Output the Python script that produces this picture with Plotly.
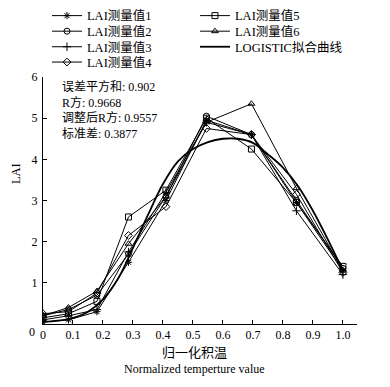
import plotly.graph_objects as go

x_pts = [0, 0.085, 0.18, 0.285, 0.41, 0.545, 0.695, 0.845, 1.0]
lai1 = [0.05, 0.10, 0.30, 1.50, 3.00, 4.95, 4.60, 2.95, 1.30]
lai2 = [0.20, 0.35, 0.70, 1.70, 3.10, 5.05, 4.60, 3.00, 1.35]
lai3 = [0.10, 0.20, 0.35, 1.75, 3.20, 4.90, 4.60, 2.75, 1.20]
lai4 = [0.25, 0.30, 0.75, 2.15, 2.85, 4.75, 4.60, 3.15, 1.25]
lai5 = [0.15, 0.25, 0.55, 2.60, 3.25, 5.00, 4.25, 2.95, 1.40]
lai6 = [0.20, 0.40, 0.80, 1.95, 3.10, 4.90, 5.35, 3.30, 1.30]

fit_x = [0, 0.05, 0.1, 0.15, 0.2, 0.25, 0.3, 0.35, 0.4, 0.45, 0.5, 0.55, 0.6, 0.65,
         0.7, 0.75, 0.8, 0.85, 0.9, 0.95, 1.0]
fit_y = [0.05, 0.08, 0.15, 0.30, 0.60, 1.10, 1.85, 2.65, 3.40, 3.95, 4.25, 4.42, 4.50, 4.50,
         4.40, 4.12, 3.80, 3.35, 2.75, 2.05, 1.30]

series_names = ["LAI测量值1", "LAI测量值2", "LAI测量值3", "LAI测量值4", "LAI测量值5", "LAI测量值6"]
series_vals = [lai1, lai2, lai3, lai4, lai5, lai6]
fit_name = "LOGISTIC拟合曲线"
symbols = ["asterisk-open", "circle-open", "cross-thin-open", "diamond-open", "square-open", "triangle-up-open"]

x_tickvals = [0, 0.1, 0.2, 0.3, 0.4, 0.5, 0.6, 0.7, 0.8, 0.9, 1.0]
x_ticktext = ["0", "0.1", "0.2", "0.3", "0.4", "0.5", "0.6", "0.7", "0.8", "0.9", "1.0"]
y_tickvals = [0, 1, 2, 3, 4, 5, 6]
y_ticktext = ["", "1", "2", "3", "4", "5", "6"]

stats_text = "误差平方和: 0.902<br>R方: 0.9668<br>调整后R方: 0.9557<br>标准差: 0.3877"

FONT = "Liberation Serif, Times New Roman, Noto Sans CJK SC, serif"

# one small legend per entry so rows can sit as tightly as in the reference
legend_pos = [(0.0127, 1.247), (0.0127, 1.184), (0.0127, 1.121), (0.0127, 1.059),
              (0.484, 1.247), (0.484, 1.184), (0.484, 1.121)]
legend_keys = ["legend"] + ["legend%d" % i for i in range(2, 8)]

fig = go.Figure()
for i, (name, vals, sym) in enumerate(zip(series_names, series_vals, symbols)):
    fig.add_trace(go.Scatter(
        x=x_pts, y=vals, name=name, mode="lines+markers", legend=legend_keys[i],
        line=dict(color="black", width=1),
        marker=dict(symbol=sym, size=6, color="black", line=dict(color="black", width=1)),
    ))
fig.add_trace(go.Scatter(
    x=fit_x, y=fit_y, name=fit_name, mode="lines", legend=legend_keys[6],
    line=dict(color="black", width=1.8, shape="spline"),
))

legend_layouts = {}
for key, (lx, ly) in zip(legend_keys, legend_pos):
    legend_layouts[key] = dict(x=lx, y=ly, xanchor="left", yanchor="middle",
                               bgcolor="rgba(0,0,0,0)", borderwidth=0,
                               font=dict(family=FONT, size=12.5), itemwidth=30)

fig.update_layout(
    width=382, height=379,
    margin=dict(l=35, r=33, t=69, b=63, autoexpand=False),
    paper_bgcolor="white", plot_bgcolor="white",
    font=dict(family=FONT, size=12, color="black"),
    showlegend=True,
    xaxis=dict(range=[0, 1.047], showline=True, linecolor="black", linewidth=1,
               ticks="inside", ticklen=4, tickcolor="black", tickvals=x_tickvals,
               ticktext=x_ticktext, showgrid=False, zeroline=False,
               tickfont=dict(family=FONT, size=12)),
    yaxis=dict(range=[0, 6], showline=True, linecolor="black", linewidth=1,
               ticks="inside", ticklen=4, tickcolor="black", tickvals=y_tickvals,
               ticktext=y_ticktext, ticklabelstandoff=2,
               showgrid=False, zeroline=False, tickfont=dict(family=FONT, size=12)),
    annotations=[
        dict(text=stats_text, xref="paper", yref="paper", x=0.054, y=1.0,
             xanchor="left", yanchor="top", align="left", showarrow=False,
             font=dict(family=FONT, size=12)),
        dict(text="归一化积温", xref="paper", yref="paper", x=0.481,
             y=-0.117, xanchor="center", yanchor="middle", showarrow=False,
             font=dict(family=FONT, size=13)),
        dict(text="Normalized temperture value", xref="paper", yref="paper", x=0.481,
             y=-0.182, xanchor="center", yanchor="middle", showarrow=False,
             font=dict(family=FONT, size=12)),
        dict(text="LAI", xref="paper", yref="paper", x=-0.086, y=0.611,
             xanchor="center", yanchor="middle", textangle=-90, showarrow=False,
             font=dict(family=FONT, size=12.5)),
        dict(text="0", xref="paper", yref="paper", x=-0.019, y=-0.032,
             xanchor="right", yanchor="middle", showarrow=False,
             font=dict(family=FONT, size=12)),
    ],
    **legend_layouts,
)

fig.write_html("out.html")
